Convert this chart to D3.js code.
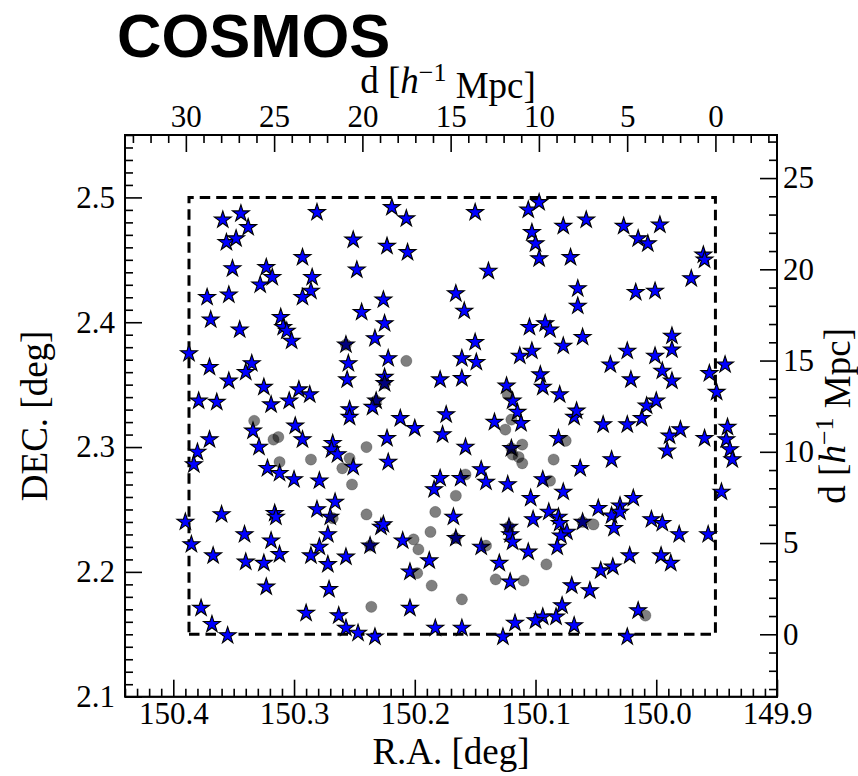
<!DOCTYPE html>
<html>
<head>
<meta charset="utf-8">
<script src="https://cdn.jsdelivr.net/npm/d3@7"></script>
<style>
  html, body { margin: 0; padding: 0; background: #fff; }
  svg { display: block; }
</style>
</head>
<body>
<svg id="chart" width="858" height="776"></svg>
<script>
// Member galaxies (stars): right ascension and declination in degrees
const starRA = [
  150.359,150.344,150.338,150.356,150.348,150.281,150.219,150.207,150.150,150.251,
  150.223,150.206,150.293,150.248,150.351,150.323,150.318,150.328,150.285,150.286,
  150.293,150.372,150.354,150.369,150.345,150.311,150.309,150.306,150.302,150.226,
  150.244,150.225,150.233,150.257,150.255,150.222,150.256,150.225,150.225,150.166,
  150.159,150.150,150.161,150.149,150.179,150.161,150.387,150.370,150.335,150.340,
  150.354,150.325,150.296,150.287,150.106,150.097,150.103,150.100,150.097,150.077,
  150.058,150.071,150.139,150.027,150.015,150.007,149.997,149.961,149.960,149.971,
  150.065,150.065,150.017,150.001,150.105,150.092,150.088,150.077,150.061,150.113,
  150.103,150.096,150.094,150.124,150.080,150.038,150.024,150.001,149.987,149.987,
  149.995,149.987,150.021,149.956,149.943,149.950,150.379,150.364,150.319,150.304,
  150.254,150.254,150.232,150.235,150.212,150.200,150.174,150.177,150.158,150.334,
  150.299,150.293,150.370,150.380,150.383,150.329,150.322,150.312,150.300,150.279,
  150.268,150.269,150.264,150.251,150.223,150.222,150.179,150.184,150.162,150.360,
  150.390,150.385,150.316,150.315,150.341,150.319,150.312,150.367,150.340,150.325,
  150.323,150.281,150.266,150.270,150.272,150.279,150.286,150.272,150.257,150.271,
  150.228,150.226,150.237,150.210,150.168,150.166,150.145,150.188,150.204,150.204,
  150.377,150.368,150.355,150.290,150.263,150.257,150.247,150.233,150.183,150.161,
  150.119,150.115,150.112,150.134,150.068,150.066,150.044,150.024,150.012,150.008,
  150.000,150.120,150.081,150.063,150.037,149.989,149.980,149.991,149.960,149.941,
  149.942,149.939,149.937,149.946,150.145,150.141,150.123,150.094,150.077,150.104,
  150.089,150.081,150.080,150.074,150.079,150.082,150.102,150.122,150.121,150.119,
  150.106,150.130,150.121,150.061,150.048,150.037,150.030,150.030,150.035,150.019,
  150.004,149.995,149.981,149.957,150.022,150.036,150.046,149.996,149.988,150.070,
  150.055,150.078,150.083,150.094,150.100,150.117,150.068,150.015,150.127,150.024
];
const starDEC = [
  2.482,2.487,2.476,2.464,2.467,2.488,2.492,2.483,2.488,2.466,
  2.461,2.456,2.452,2.442,2.443,2.444,2.436,2.430,2.436,2.425,
  2.420,2.420,2.422,2.402,2.394,2.404,2.396,2.393,2.385,2.418,
  2.408,2.399,2.387,2.382,2.367,2.371,2.354,2.356,2.351,2.423,
  2.409,2.384,2.371,2.368,2.354,2.355,2.375,2.364,2.367,2.360,
  2.353,2.348,2.346,2.342,2.490,2.496,2.472,2.463,2.451,2.477,
  2.482,2.452,2.441,2.477,2.467,2.463,2.478,2.454,2.450,2.435,
  2.427,2.413,2.424,2.425,2.396,2.399,2.394,2.381,2.388,2.373,
  2.377,2.358,2.348,2.349,2.342,2.366,2.377,2.373,2.389,2.378,
  2.361,2.353,2.354,2.359,2.366,2.344,2.337,2.336,2.334,2.337,
  2.330,2.324,2.337,2.332,2.323,2.315,2.326,2.310,2.300,2.313,
  2.317,2.306,2.306,2.296,2.286,2.300,2.283,2.279,2.274,2.273,
  2.303,2.298,2.294,2.284,2.307,2.288,2.275,2.266,2.275,2.246,
  2.240,2.222,2.247,2.244,2.230,2.225,2.214,2.213,2.208,2.207,
  2.188,2.250,2.256,2.244,2.230,2.220,2.213,2.206,2.212,2.186,
  2.236,2.238,2.221,2.225,2.244,2.227,2.220,2.209,2.200,2.171,
  2.171,2.158,2.149,2.167,2.165,2.155,2.151,2.148,2.155,2.155,
  2.337,2.328,2.319,2.320,2.324,2.329,2.318,2.318,2.323,2.333,
  2.337,2.299,2.307,2.283,2.290,2.309,2.314,2.297,2.307,2.316,
  2.306,2.298,2.290,2.264,2.282,2.272,2.270,2.274,2.264,2.259,
  2.248,2.244,2.239,2.232,2.229,2.220,2.242,2.236,2.230,2.224,
  2.216,2.207,2.192,2.240,2.251,2.245,2.253,2.248,2.235,2.259,
  2.242,2.239,2.230,2.230,2.213,2.204,2.201,2.213,2.207,2.189,
  2.185,2.173,2.164,2.164,2.161,2.159,2.157,2.169,2.148,2.148
];

// Comparison sources (grey dots): right ascension and declination in degrees
const dotRA = [
  150.207,150.225,150.257,150.232,150.333,150.317,150.313,150.312,150.286,150.254,
  150.260,150.252,150.240,150.158,150.166,150.268,150.240,150.237,150.201,150.197,
  150.183,150.187,150.166,150.198,150.186,150.161,150.236,150.123,150.120,150.125,
  150.120,150.111,150.119,150.114,150.111,150.075,150.085,150.088,150.122,150.141,
  150.091,150.133,150.110,150.061,150.052,150.009
];
const dotDEC = [
  2.369,2.351,2.382,2.337,2.321,2.306,2.308,2.288,2.290,2.291,
  2.283,2.270,2.300,2.278,2.261,2.243,2.246,2.221,2.226,2.218,
  2.248,2.232,2.227,2.199,2.189,2.178,2.172,2.342,2.322,2.314,
  2.299,2.302,2.294,2.292,2.287,2.305,2.290,2.273,2.236,2.221,
  2.206,2.194,2.193,2.240,2.238,2.165
];

// Axis ticks
const raTicks = [150.4, 150.3, 150.2, 150.1, 150.0, 149.9];
const decTicks = [2.1, 2.2, 2.3, 2.4, 2.5];
const mpcTopTicks = [0, 5, 10, 15, 20, 25, 30];
const mpcRightTicks = [0, 5, 10, 15, 20, 25];

// Survey field and its comoving scale
const fieldRA = [150.387, 149.951];
const fieldDEC = [2.15, 2.5];
const raDomain = [150.44, 149.9];
const decDomain = [2.1, 2.55];
const mpcPerDeg = 68.4;

const svg = d3.select("#chart");
const L = 125, R = 777, T = 135, B = 696.7;
const serif = "'Liberation Serif', 'Times New Roman', serif";

const x = d3.scaleLinear().domain(raDomain).range([L, R]);
const y = d3.scaleLinear().domain(decDomain).range([B, T]);
// distance scales measured from the field's lower-right corner
const xMpc = d3.scaleLinear()
  .domain(raDomain.map(v => (v - fieldRA[1]) * mpcPerDeg)).range([L, R]);
const yMpc = d3.scaleLinear()
  .domain(decDomain.map(v => (v - fieldDEC[0]) * mpcPerDeg)).range([B, T]);

function range01(lo, hi, step) {
  const out = [];
  for (let v = Math.ceil(lo / step - 1e-9); v * step <= hi + 1e-9; v++) out.push(+(v * step).toFixed(4));
  return out;
}

function styleAxis(g, size) {
  g.select(".domain").remove();
  g.selectAll(".tick line").attr("stroke", "#000").attr("stroke-width", 1.6);
  g.selectAll(".tick text")
    .attr("fill", "#000")
    .style("font-family", serif)
    .style("font-size", size + "px");
}

const MAJ = 17, MIN = 8;
const TICK_FONT = 31;

// bottom: R.A.
const gB = svg.append("g").attr("transform", `translate(0,${B})`);
gB.call(d3.axisBottom(x).tickValues(range01(149.9, 150.44, 0.01).filter(v => !raTicks.some(t => Math.abs(t - v) < 1e-6)))
  .tickSize(-MIN).tickFormat(""));
gB.append("g").call(d3.axisBottom(x).tickValues(raTicks).tickSize(-MAJ).tickPadding(5).tickFormat(d3.format(".1f")));
styleAxis(gB, TICK_FONT);

// left: DEC.
const gL = svg.append("g").attr("transform", `translate(${L},0)`);
gL.call(d3.axisLeft(y).tickValues(range01(2.1, 2.55, 0.01).filter(v => !decTicks.some(t => Math.abs(t - v) < 1e-6)))
  .tickSize(-MIN).tickFormat(""));
gL.append("g").call(d3.axisLeft(y).tickValues(decTicks).tickSize(-MAJ).tickPadding(10).tickFormat(d3.format(".1f")));
styleAxis(gL, TICK_FONT);

// top: distance along R.A.
const [tLo, tHi] = d3.extent(xMpc.domain());
const gT = svg.append("g").attr("transform", `translate(0,${T})`);
gT.call(d3.axisTop(xMpc).tickValues(range01(tLo, tHi, 1).filter(v => v % 5 !== 0)).tickSize(-MIN).tickFormat(""));
gT.append("g").call(d3.axisTop(xMpc).tickValues(mpcTopTicks).tickSize(-MAJ).tickPadding(8).tickFormat(d3.format("d")));
styleAxis(gT, TICK_FONT);

// right: distance along DEC.
const [rLo, rHi] = d3.extent(yMpc.domain());
const gR = svg.append("g").attr("transform", `translate(${R},0)`);
gR.call(d3.axisRight(yMpc).tickValues(range01(rLo, rHi, 1).filter(v => v % 5 !== 0)).tickSize(-MIN).tickFormat(""));
gR.append("g").call(d3.axisRight(yMpc).tickValues(mpcRightTicks).tickSize(-MAJ).tickPadding(6).tickFormat(d3.format("d")));
styleAxis(gR, TICK_FONT);

// plot frame
svg.append("rect")
  .attr("x", L).attr("y", T).attr("width", R - L).attr("height", B - T)
  .attr("fill", "none").attr("stroke", "#000").attr("stroke-width", 2);

// field outline (dashed)
const p = d3.path();
p.moveTo(x(fieldRA[0]), y(fieldDEC[0]));
p.lineTo(x(fieldRA[1]), y(fieldDEC[0]));
p.lineTo(x(fieldRA[1]), y(fieldDEC[1]));
p.lineTo(x(fieldRA[0]), y(fieldDEC[1]));
p.closePath();
svg.append("path").attr("d", p.toString())
  .attr("fill", "none").attr("stroke", "#000").attr("stroke-width", 3)
  .attr("stroke-dasharray", "10.5,6");

// star markers
const starPath = d3.symbol(d3.symbolStar).size(88)();
svg.append("g").selectAll("path")
  .data(d3.range(starRA.length))
  .join("path")
  .attr("d", starPath)
  .attr("transform", i => `translate(${x(starRA[i])},${y(starDEC[i])})`)
  .attr("fill", "#0000ff")
  .attr("stroke", "#000")
  .attr("stroke-width", 1.1)
  .attr("stroke-linejoin", "miter");

// translucent grey dots on top
svg.append("g").selectAll("circle")
  .data(d3.range(dotRA.length))
  .join("circle")
  .attr("cx", i => x(dotRA[i]))
  .attr("cy", i => y(dotDEC[i]))
  .attr("r", 5.6)
  .attr("fill", "#000").attr("fill-opacity", 0.5)
  .attr("stroke", "#000").attr("stroke-opacity", 0.2).attr("stroke-width", 1);

// axis titles
const LABEL_FONT = 37;
svg.append("text")
  .attr("x", (L + R) / 2).attr("y", 764)
  .attr("text-anchor", "middle")
  .style("font-family", serif).style("font-size", LABEL_FONT + "px")
  .text("R.A. [deg]");

svg.append("text")
  .attr("transform", `translate(47,${(T + B) / 2}) rotate(-90)`)
  .attr("text-anchor", "middle")
  .style("font-family", serif).style("font-size", LABEL_FONT + "px")
  .text("DEC. [deg]");

function mpcLabel(sel) {
  sel.style("font-family", serif).style("font-size", LABEL_FONT + "px");
  sel.append("tspan").text("d [");
  sel.append("tspan").style("font-style", "italic").text("h");
  sel.append("tspan").attr("dy", "-0.45em").style("font-size", "26px").text("\u22121");
  sel.append("tspan").attr("dy", "0.45em").text(" Mpc]");
}

svg.append("text")
  .attr("x", (L + R) / 2 - 3).attr("y", 93)
  .attr("text-anchor", "middle")
  .call(mpcLabel);

svg.append("text")
  .attr("transform", `translate(845,${(T + B) / 2}) rotate(-90)`)
  .attr("text-anchor", "middle")
  .call(mpcLabel);

// panel title
svg.append("text")
  .attr("x", 117).attr("y", 57)
  .style("font-family", "'Liberation Sans', Arial, Helvetica, sans-serif")
  .style("font-weight", "bold").style("font-size", "61.5px")
  .text("COSMOS");
</script>
</body>
</html>
